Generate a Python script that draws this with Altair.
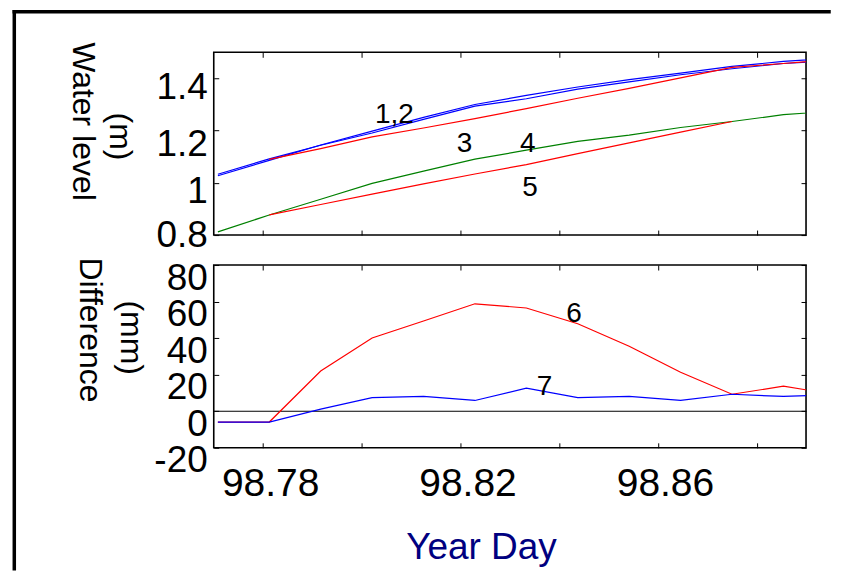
import altair as alt
import pandas as pd

FONT = "Liberation Sans"

# ---- data ----
times = [98.770833, 98.78125, 98.791667, 98.802083, 98.8125, 98.822917,
         98.833333, 98.84375, 98.854167, 98.864583, 98.875, 98.885417, 98.895833]
level_1 = [1.027, 1.086, 1.145, 1.198, 1.251, 1.300, 1.335, 1.367, 1.395, 1.420, 1.446, 1.465, 1.478]
level_2 = [1.033, 1.092, 1.144, 1.191, 1.243, 1.294, 1.322, 1.359, 1.387, 1.414, 1.437, 1.457, 1.469]
level_3 = [1.090, 1.131, 1.176, 1.210, 1.246, 1.284, 1.324, 1.362, 1.402, 1.442, 1.457, 1.472]  # from times[1]
level_4 = [0.812, 0.877, 0.937, 0.998, 1.045, 1.091, 1.125, 1.159, 1.183, 1.212, 1.235, 1.261, 1.275]
level_5 = [0.877, 0.917, 0.957, 0.996, 1.034, 1.070, 1.112, 1.153, 1.194, 1.235]  # times[1]..times[10]
diff_6 = [-5.9, -5.9, 22.0, 40.1, 49.4, 58.8, 56.5, 47.9, 35.6, 21.3, 9.3, 13.7, 9.2]
diff_7 = [-5.9, -5.9, 1.2, 7.5, 8.1, 5.9, 12.6, 7.5, 8.1, 5.9, 9.3, 8.1, 9.0]

x_ticks = [98.78, 98.80, 98.82, 98.84, 98.86, 98.88]
x_labels = ["98.78", "98.82", "98.86"]
top_ticks = [0.8, 1.0, 1.2, 1.4]
bottom_ticks = [-20, 0, 20, 40, 60, 80]

top_notes = ["1,2", "3", "4", "5"]
top_note_x = [98.8066, 98.8208, 98.8336, 98.8341]
top_note_y = [1.228, 1.117, 1.117, 0.951]
bottom_notes = ["6", "7"]
bottom_note_x = [98.8430, 98.8370]
bottom_note_y = [48.8, 8.7]

W, H = 593, 183


def series(name, xs, ys):
    return pd.DataFrame({"t": list(xs), "v": list(ys), "s": name})


blue_top = pd.concat([series("1", times, level_1), series("2", times, level_2)])
green_top = series("4", times, level_4)
red_top = pd.concat([series("3", times[1:], level_3), series("5", times[1:11], level_5)])
red_bottom = series("6", times, diff_6)
blue_bottom = series("7", times, diff_7)
zero_df = pd.DataFrame({"v": [0]})
top_notes_df = pd.DataFrame({"t": top_note_x, "v": top_note_y, "label": top_notes})
bottom_notes_df = pd.DataFrame({"t": bottom_note_x, "v": bottom_note_y, "label": bottom_notes})
one = pd.DataFrame({"k": [0]})

common = dict(domain=False, ticks=False, tickSize=0, grid=True, gridColor="black",
              gridOpacity=1, gridWidth=1, labelFont=FONT, labelColor="black",
              labelFlush=False, labelOverlap=False, title=None)

xscale = alt.Scale(domain=[98.77, 98.89], nice=False, zero=False)
label_test = "indexof(" + str(x_labels).replace('"', "'") + ", format(datum.value, '.2f')) >= 0"

x_top = alt.X("t:Q", scale=xscale,
              axis=alt.Axis(values=x_ticks, labels=False, gridDash=[5, H - 10], **common))
x_bottom = alt.X("t:Q", scale=xscale,
                 axis=alt.Axis(values=x_ticks, gridDash=[5, H - 10], labelFontSize=39,
                               labelPadding=17, labelOffset=7,
                               labelExpr=label_test + " ? format(datum.value, '.2f') : ''",
                               **common))
y_top = alt.Y("v:Q", scale=alt.Scale(domain=[0.8, 1.5], nice=False, zero=False),
              axis=alt.Axis(values=top_ticks, gridDash=[5, W - 10], labelFontSize=37,
                            labelPadding=6.5,
                            labelOffset={"condition": [
                                {"test": "datum.value < 0.9", "value": 0},
                                {"test": "datum.value > 1.1 && datum.value < 1.3", "value": 14}],
                                "value": 9},
                            labelExpr="'' + datum.value", **common))
y_bottom = alt.Y("v:Q", scale=alt.Scale(domain=[-20, 80], nice=False, zero=False),
                 axis=alt.Axis(values=bottom_ticks, gridDash=[5, W - 10], labelFontSize=37,
                               labelPadding=6.5, labelOffset=13,
                               labelExpr="'' + datum.value", **common))


def lines(df, color, x, y):
    return alt.Chart(df).mark_line(color=color, strokeWidth=1.2, clip=True).encode(
        x=x, y=y, detail="s:N")


def label_text(text, px, py, size=32, angle=90, color="black", baseline="alphabetic"):
    return alt.Chart(one).mark_text(text=text, font=FONT, fontSize=size, angle=angle,
                                    align="center", baseline=baseline, color=color).encode(
        x=alt.value(px), y=alt.value(py))


frame_h = alt.Chart(one).mark_rule(color="black", strokeWidth=3.5, strokeCap="square").encode(
    x=alt.value(-199.7), x2=alt.value(616), y=alt.value(-40.7))
frame_v = alt.Chart(one).mark_rule(color="black", strokeWidth=3.5, strokeCap="square").encode(
    x=alt.value(-199.7), y=alt.value(-40.7), y2=alt.value(517))

top = alt.layer(
    lines(blue_top, "#0000ff", x_top, y_top),
    lines(green_top, "#008000", x_top, y_top),
    lines(red_top, "#ff0000", x_top, y_top),
    alt.Chart(top_notes_df).mark_text(font=FONT, fontSize=28, color="black",
                                      align="center", baseline="alphabetic").encode(
        x=x_top, y=y_top, text="label:N"),
    label_text("Water level", -140.7, 69.3),
    label_text("(m)", -104.3, 84.3),
    frame_h,
    frame_v,
).properties(width=W, height=H)

bottom = alt.layer(
    alt.Chart(zero_df).mark_rule(color="black", strokeWidth=1).encode(y=y_bottom),
    lines(red_bottom, "#ff0000", x_bottom, y_bottom),
    lines(blue_bottom, "#0000ff", x_bottom, y_bottom),
    alt.Chart(bottom_notes_df).mark_text(font=FONT, fontSize=28, color="black",
                                         align="center", baseline="alphabetic").encode(
        x=x_bottom, y=y_bottom, text="label:N"),
    label_text("Difference", -134.4, 65),
    label_text("(mm)", -93.3, 72.7),
    label_text("Year Day", 268.1, 294.3, size=37, angle=0, color="#000080"),
).properties(width=W, height=H)

chart = alt.vconcat(top, bottom, spacing=30, bounds="flush").properties(
    padding={"left": 3, "top": 0, "right": 0, "bottom": 0}
).configure(font=FONT).configure_view(stroke="black", strokeWidth=1.6)

chart.save("out.html", embed_options={"renderer": "svg", "actions": False})
